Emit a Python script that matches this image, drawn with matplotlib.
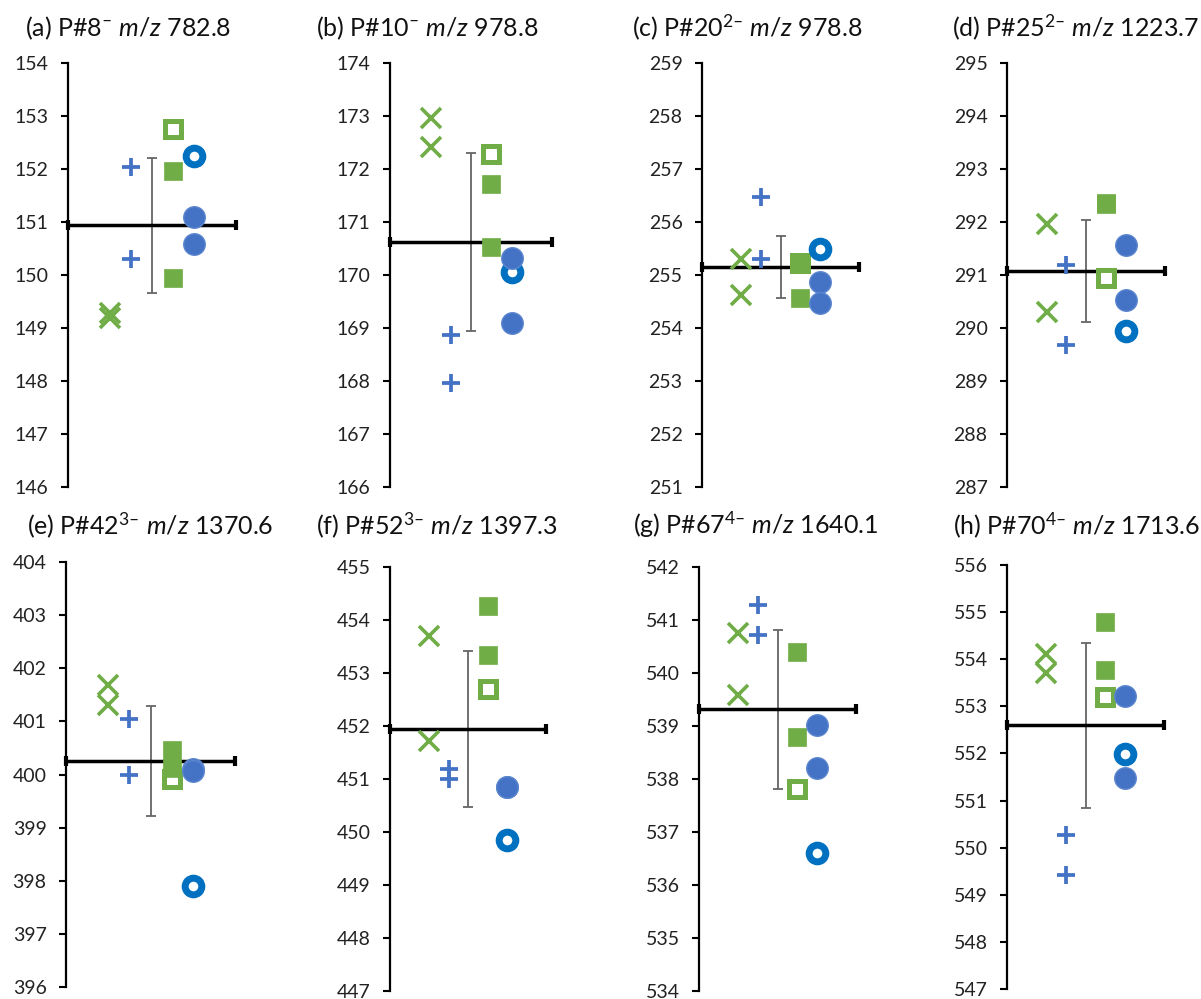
import matplotlib
matplotlib.use("Agg")
import matplotlib.pyplot as plt
import numpy as np

plt.rcParams['font.family'] = ['Lato', 'DejaVu Sans']
plt.rcParams['mathtext.fontset'] = 'custom'
plt.rcParams['mathtext.rm'] = 'Lato'
plt.rcParams['mathtext.it'] = 'Lato:italic'
plt.rcParams['mathtext.bf'] = 'Lato:bold'

# panel labels / ions
letters = ['a', 'b', 'c', 'd', 'e', 'f', 'g', 'h']
peptides = ['8', '10', '20', '25', '42', '52', '67', '70']
charges = ['', '', '2', '2', '3', '3', '4', '4']
mz = ['782.8', '978.8', '978.8', '1223.7', '1370.6', '1397.3', '1640.1', '1713.6']

y_lo = [146, 166, 251, 287, 396, 447, 534, 547]
y_hi = [154, 174, 259, 295, 404, 455, 542, 556]

# measured values per panel
green_x = [[149.28, 149.18], [172.96, 172.42], [255.30, 254.62], [291.96, 290.30],
           [401.68, 401.31], [453.70, 451.72], [540.75, 539.58], [554.11, 553.71]]
blue_plus = [[152.04, 150.31], [168.87, 167.97], [256.48, 255.31], [291.18, 289.68],
             [401.04, 399.99], [451.19, 451.00], [541.28, 540.72], [550.27, 549.42]]
green_sq = [[151.96, 149.94], [171.71, 170.52], [255.24, 254.57], [292.35, 292.34],
            [400.47, 400.12], [454.26, 453.34], [540.39, 538.79], [554.80, 553.77]]
green_sq_open = [152.75, 172.28, 255.22, 290.95, 399.91, 452.69, 537.81, 553.19]
blue_circ = [[151.10, 150.58], [170.33, 169.10], [254.87, 254.48], [291.57, 290.53],
             [400.10, 400.06], [450.84, 450.84], [539.02, 538.20], [553.21, 551.47]]
blue_circ_open = [152.25, 170.06, 255.49, 289.94, 397.90, 449.85, 536.60, 551.99]

# layout in pixels (left, right, top, bottom) and title anchors
W, H = 1201, 999
boxes = [(68, 236, 63, 487), (390, 552, 63, 487), (702, 859, 63, 487), (1007, 1165, 63, 487),
         (66, 235, 562, 987), (390, 546, 567, 991), (699, 856, 567, 991), (1007, 1164, 565, 989)]
title_pos = [(25, 36), (316, 36), (632, 36), (952, 36),
             (27, 534), (316, 534), (633, 534), (953, 534)]

green = '#70AD47'
blue = '#4472C4'
blue_dark = '#0070C0'

fig = plt.figure(figsize=(W / 100, H / 100), dpi=100)

for i in range(8):
    l, r, t, b = boxes[i]
    ax = fig.add_axes([l / W, 1 - b / H, (r - l) / W, (b - t) / H])

    allv = green_x[i] + blue_plus[i] + green_sq[i] + [green_sq_open[i]] + blue_circ[i] + [blue_circ_open[i]]
    mean = np.mean(allv)
    sd = np.std(allv, ddof=1)

    ax.errorbar([4], [mean], yerr=[sd], fmt='none', ecolor='#666666', elinewidth=1.3,
                capsize=3.5, capthick=1.3, zorder=2)
    ax.errorbar([4], [mean], xerr=[4], fmt='none', ecolor='black', elinewidth=2.5,
                capsize=3.5, capthick=3, zorder=3, clip_on=False)

    ax.plot([2] * len(green_x[i]), green_x[i], 'x', color=green, markersize=15, mew=2.6,
            linestyle='none', zorder=4)
    ax.plot([3] * len(blue_plus[i]), blue_plus[i], '+', color=blue, markersize=13.5, mew=2.7,
            linestyle='none', zorder=4)
    ax.plot([5], [green_sq_open[i]], 's', mfc='white', mec=green, markersize=11, mew=3.6,
            linestyle='none', zorder=4)
    ax.plot([5] * len(green_sq[i]), green_sq[i], 's', color=green, markersize=12.5, mew=0.5,
            linestyle='none', zorder=4)
    ax.plot([6], [blue_circ_open[i]], 'o', mfc='white', mec=blue_dark, markersize=12, mew=5,
            linestyle='none', zorder=5)
    ax.plot([6] * len(blue_circ[i]), blue_circ[i], 'o', mfc=blue, mec='#5B86CF', markersize=15.5,
            mew=1, linestyle='none', zorder=5)

    ax.set_xlim(0, 8)
    ax.set_ylim(y_lo[i], y_hi[i])
    ax.set_yticks(np.arange(y_lo[i], y_hi[i] + 1))
    ax.set_xticks([])
    for s in ['top', 'right', 'bottom']:
        ax.spines[s].set_visible(False)
    ax.spines['left'].set_linewidth(1.6)
    ax.tick_params(axis='y', direction='out', length=5, width=1.5, pad=9,
                   labelsize=14, labelcolor='#222222')
    ax.patch.set_alpha(0)

    title = ('(' + letters[i] + ') P#' + peptides[i] + '$^{' + charges[i] + '\u2013}$ '
             + '$\\mathit{m/z}$ ' + mz[i])
    tx, ty = title_pos[i]
    fig.text(tx / W, 1 - ty / H, title, fontsize=18, color='#111111', ha='left', va='baseline')

fig.savefig('out.png', dpi=100)
